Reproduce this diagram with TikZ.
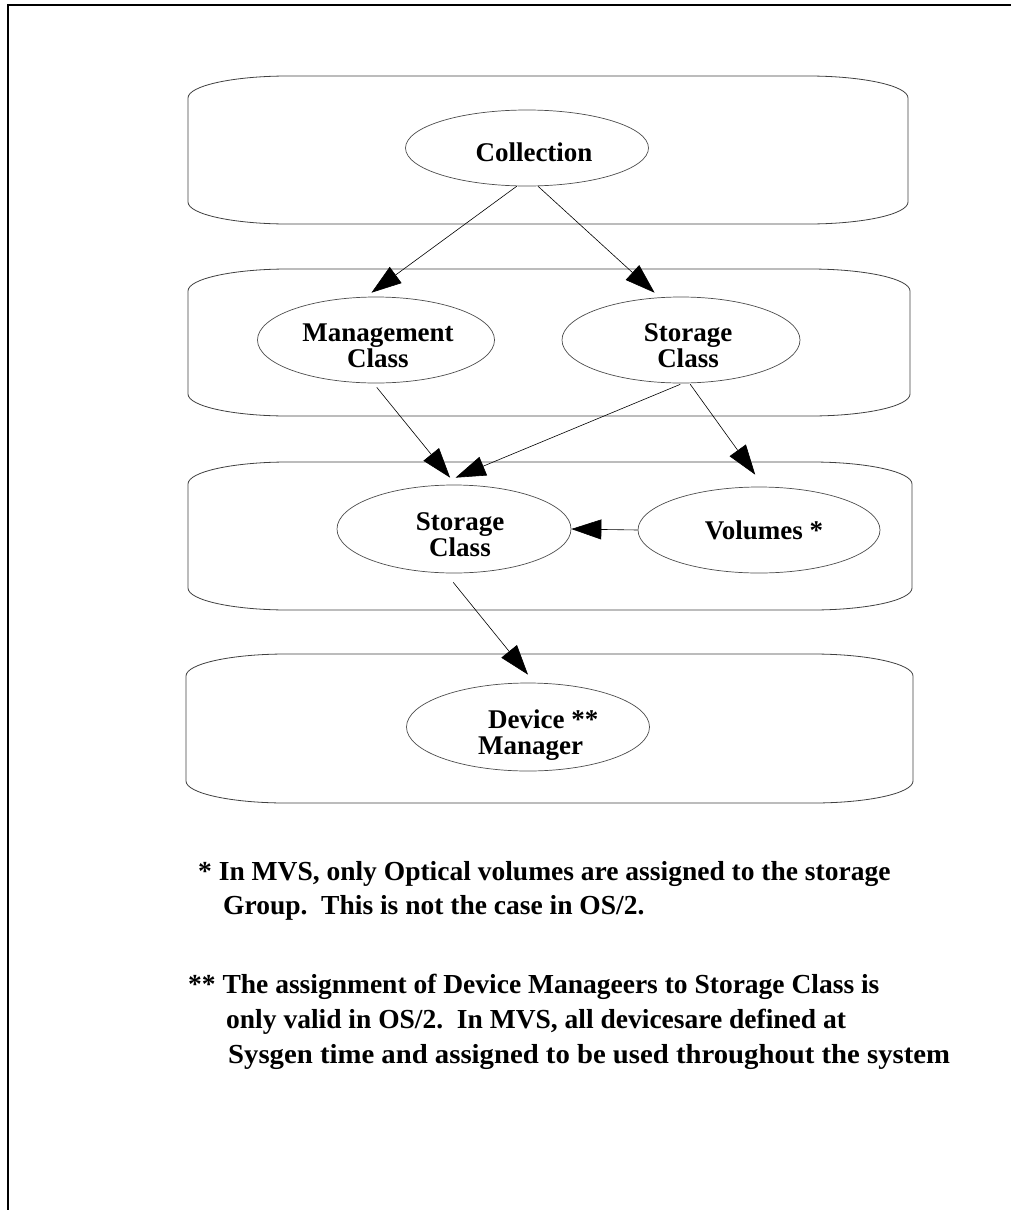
\documentclass[tikz,border=0pt]{standalone}
\usepackage{fontspec}
\usepackage{graphicx}
\setmainfont{Liberation Serif}
\usetikzlibrary{arrows.meta,shapes.geometric}

% a wide lane with elliptically rounded corners: left, right, top, bottom
\newcommand\lanebox[4]{%
  \draw[lane] ({#1},{#3+22})
    arc[start angle=180,end angle=90,x radius=100pt,y radius=22pt]
    -- ({#2-100},{#3})
    arc[start angle=90,end angle=0,x radius=100pt,y radius=22pt]
    -- ({#2},{#4-22})
    arc[start angle=0,end angle=-90,x radius=100pt,y radius=22pt]
    -- ({#1+100},{#4})
    arc[start angle=-90,end angle=-180,x radius=100pt,y radius=22pt]
    -- cycle;}

\begin{document}
\begin{tikzpicture}[x=1pt,y=-1pt,
  lane/.style={draw=black!75,line width=0.8pt},
  ell/.style={ellipse,draw=black!70,line width=0.7pt,inner sep=0pt},
  lbl/.style={font=\fontsize{27}{26}\selectfont\bfseries,align=center,inner sep=0pt},
  note/.style={font=\fontsize{27.5}{30}\selectfont\bfseries,anchor=base west,inner sep=0pt},
  link/.style={draw=black,line width=0.6pt,-{Triangle[length=30pt,width=20pt]}}]

\useasboundingbox (0,0) rectangle (1011,1210);

% page frame (top and left edges only)
\draw[line width=2pt] (1011,5) -- (8,5) -- (8,1210);

% the four lanes
\lanebox{188}{908}{76}{224}
\lanebox{188}{910}{269}{416}
\lanebox{188}{912}{462}{610}
\lanebox{186}{913}{654}{803}

% ellipses
\node[ell,minimum width=243pt,minimum height=76pt] (coll) at (527,148) {};
\node[ell,minimum width=237pt,minimum height=86pt] (mgmt) at (376,340) {};
\node[ell,minimum width=238pt,minimum height=86pt] (sctop) at (681,340) {};
\node[ell,minimum width=234pt,minimum height=88pt] (scmid) at (454,529) {};
\node[ell,minimum width=242pt,minimum height=86pt] (vol) at (759,530) {};
\node[ell,minimum width=243pt,minimum height=88pt] (dev) at (528,727) {};

% labels
\node[lbl,anchor=base] (collT) at (534,161) {Collection};
\node[lbl] (mgmtT) at (378,345.5) {Management\\Class};
\node[lbl] (sctopT) at (688,345.5) {Storage\\Class};
\node[lbl] (scmidT) at (460,534.5) {Storage\\Class};
\node[lbl,anchor=base] (volT) at (764,539) {Volumes *};
\node[lbl,align=left,anchor=north west] (devT) at (478,710) {\hspace*{10pt}Device **\\Manager};

% connectors
\draw[link] (coll.-105) -- ([yshift=4pt]mgmt.96);
\draw[link] (coll.-74) -- ([yshift=5pt]sctop.122);
\draw[link] ([yshift=-4pt]mgmt.-89) -- ([yshift=7pt]scmid.95);
\draw[link] ([yshift=-1pt]sctop.-91) -- ([yshift=7pt]scmid.88);
\draw[link] ([yshift=-1pt]sctop.-78) -- ([yshift=12pt]vol.95);
\draw[link] (vol.west) -- (scmid.east);
\draw[link] ([yshift=-9pt]scmid.-91) -- ([yshift=8pt]dev.north);

% footnotes
\node[note] (n1) at (198,880) {* In MVS, only Optical volumes are assigned to the storage};
\node[note] (n2) at (223,914) {Group.\ \ This is not the case in OS/2.};
\node[note] (n3) at (188,993) {** The assignment of Device Manageers to Storage Class is};
\node[note] (n4) at (226,1028) {only valid in OS/2.\ \ In MVS, all devicesare defined at};
\node[note] (n5) at (228,1063) {\scalebox{1.045}[1]{Sysgen time and assigned to be used throughout the system}};
\end{tikzpicture}
\end{document}
